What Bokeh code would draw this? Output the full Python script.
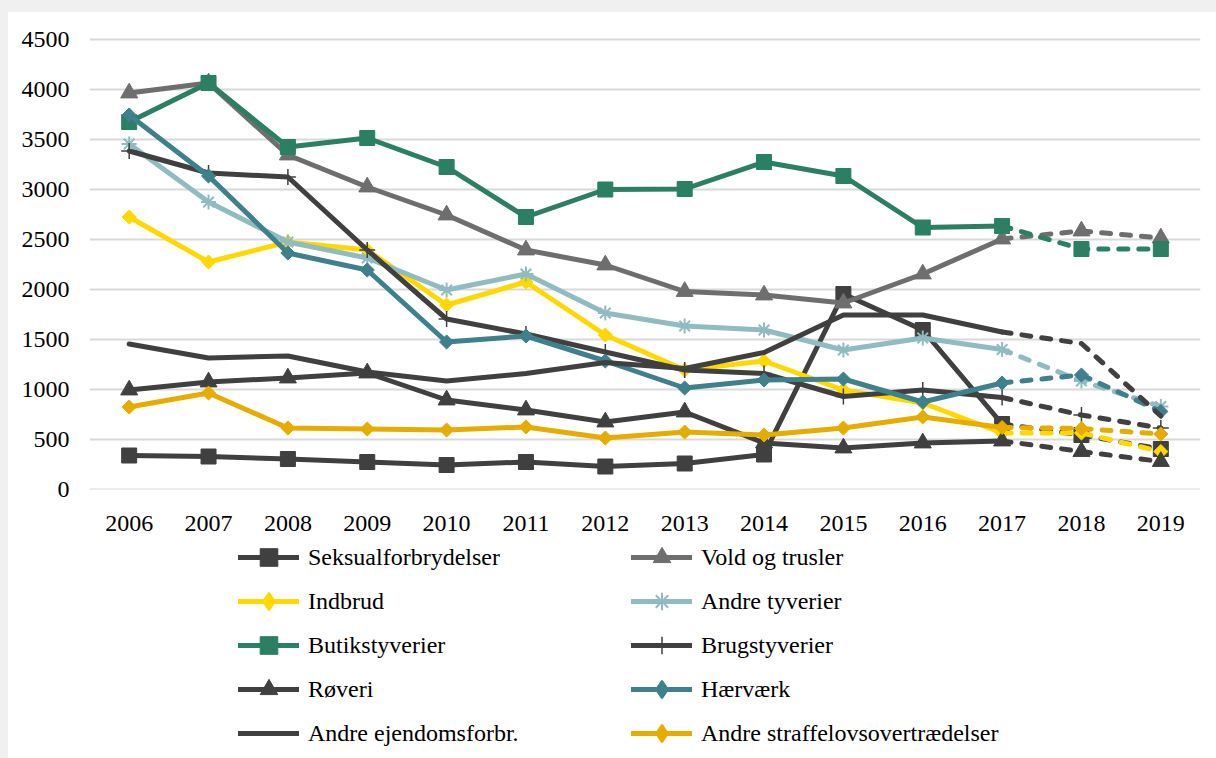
import math
from bokeh.plotting import figure
from bokeh.models import FactorRange, Range1d, FixedTicker, Legend, LegendItem, Div
from bokeh.layouts import column, row
from bokeh.embed import file_html
from bokeh.resources import INLINE

years = [str(y) for y in range(2006, 2020)]

seksual = [335, 325, 300, 270, 240, 270, 225, 255, 345, 1950, 1590, 650, 540, 400]
vold = [3960, 4060, 3340, 3020, 2740, 2390, 2240, 1975, 1940, 1860, 2150, 2500, 2580, 2510]
indbrud = [2720, 2270, 2470, 2390, 1840, 2070, 1540, 1190, 1280, 990, 860, 560, 560, 375]
andre_tyverier = [3450, 2870, 2470, 2310, 1990, 2150, 1760, 1630, 1590, 1390, 1510, 1395, 1080, 825]
butik = [3670, 4060, 3420, 3510, 3220, 2720, 2995, 3000, 3270, 3130, 2615, 2630, 2400, 2400]
brug = [3380, 3160, 3120, 2390, 1700, 1550, 1370, 1190, 1155, 925, 990, 915, 740, 610]
roveri = [990, 1070, 1110, 1160, 890, 790, 670, 770, 460, 410, 460, 480, 375, 275]
haervaerk = [3740, 3130, 2360, 2190, 1470, 1530, 1280, 1010, 1090, 1100, 870, 1060, 1140, 775]
andre_ejd = [1450, 1310, 1330, 1170, 1080, 1155, 1265, 1205, 1365, 1740, 1740, 1570, 1455, 730]
andre_straf = [820, 960, 610, 600, 590, 620, 510, 570, 540, 610, 720, 615, 605, 550]

y_ticks = [0, 500, 1000, 1500, 2000, 2500, 3000, 3500, 4000, 4500]

# name, values, color, marker, size, marker line width
series = [
    ("Seksualforbrydelser", seksual, "#404040", "square", 15, 1),
    ("Vold og trusler", vold, "#6e6e6e", "triangle", 17, 1),
    ("Indbrud", indbrud, "#ffd800", "diamond", 10, 1),
    ("Andre tyverier", andre_tyverier, "#8fbbc1", "asterisk", 15, 2),
    ("Butikstyverier", butik, "#2b7f62", "square", 15, 1),
    ("Brugstyverier", brug, "#404040", "cross", 16, 1.5),
    ("Røveri", roveri, "#404040", "triangle", 17, 1),
    ("Hærværk", haervaerk, "#3e808b", "diamond", 10, 1),
    ("Andre ejendomsforbr.", andre_ejd, "#404040", None, 0, 1),
    ("Andre straffelovsovertrædelser", andre_straf, "#e6ad00", "diamond", 10, 1),
]

FONT = "Liberation Serif"


def draw_series(fig, for_legend=False):
    items = {}
    for name, vals, color, marker, size, mlw in series:
        solid = fig.line(years[:12], vals[:12], line_width=5, line_color=color,
                         line_join="round", line_cap="round")
        fig.line(years[11:], vals[11:], line_width=5, line_color=color,
                 line_dash="9 11", line_join="round", line_cap="round")
        rends = [solid]
        if marker:
            if marker in ("asterisk", "cross"):
                sc = fig.scatter(years, vals, marker=marker, size=size, line_color=color,
                                 line_width=mlw, fill_color=None)
            elif marker == "diamond":
                if for_legend:
                    sc = fig.scatter(years, vals, marker="diamond", size=size,
                                     fill_color=color, line_color=color, line_width=2)
                else:
                    # Excel-style diamond: square turned 45 degrees
                    sc = fig.scatter(years, vals, marker="square", size=size, angle=math.pi / 4,
                                     fill_color=color, line_color=color, line_width=mlw)
            else:
                sc = fig.scatter(years, vals, marker=marker, size=size,
                                 fill_color=color, line_color=color, line_width=mlw)
            rends.append(sc)
        items[name] = LegendItem(label=name, renderers=rends)
    return items


# main chart
p = figure(
    width=1208, height=531,
    x_range=FactorRange(factors=years, range_padding=0),
    y_range=Range1d(-5, 4515),
    output_backend="svg", toolbar_location=None,
    min_border_left=81, min_border_right=16, min_border_top=25, min_border_bottom=54,
)
p.outline_line_color = None
p.background_fill_color = "white"
p.border_fill_color = "white"
p.xgrid.grid_line_color = None
p.ygrid.grid_line_color = "#d9d9d9"
p.ygrid.grid_line_width = 2
p.yaxis.ticker = FixedTicker(ticks=y_ticks)
for ax in (p.xaxis[0], p.yaxis[0]):
    ax.axis_line_color = None
    ax.major_tick_line_color = None
    ax.minor_tick_line_color = None
    ax.major_tick_out = 0
    ax.major_tick_in = 0
    ax.major_label_text_font = FONT
    ax.major_label_text_font_size = "24px"
    ax.major_label_text_color = "black"
p.yaxis.major_label_standoff = 20
p.xaxis.major_label_standoff = 26
draw_series(p)

# legend panel (same series drawn outside its visible range, used only for the legend)
q = figure(
    width=1208, height=215,
    x_range=FactorRange(factors=years, range_padding=0),
    y_range=Range1d(10000, 11000),
    output_backend="svg", toolbar_location=None,
    min_border_left=0, min_border_right=0, min_border_top=0, min_border_bottom=0,
)
q.axis.visible = False
q.grid.visible = False
q.outline_line_color = None
q.background_fill_color = "white"
q.border_fill_color = "white"
items = draw_series(q, for_legend=True)

col1 = ["Seksualforbrydelser", "Indbrud", "Butikstyverier", "Røveri", "Andre ejendomsforbr."]
col2 = ["Vold og trusler", "Andre tyverier", "Brugstyverier", "Hærværk",
        "Andre straffelovsovertrædelser"]


def make_legend(names, loc):
    lg = Legend(items=[items[n] for n in names], location=loc, orientation="vertical")
    lg.glyph_width = 61
    lg.glyph_height = 44
    lg.spacing = 0
    lg.label_standoff = 9
    lg.padding = 0
    lg.margin = 0
    lg.border_line_color = None
    lg.background_fill_alpha = 0
    lg.label_text_font = FONT
    lg.label_text_font_size = "24px"
    lg.label_text_color = "black"
    lg.label_height = 44
    return lg


q.add_layout(make_legend(col1, (149, 3)))
q.add_layout(make_legend(col2, (542, 3)))

top_strip = Div(text="", width=1216, height=12, margin=0,
                styles={"background-color": "#f0f0f0", "padding": "0px"})
left_strip = Div(text="", width=8, height=746, margin=0,
                 styles={"background-color": "#f0f0f0", "padding": "0px"})

layout = column(top_strip, row(left_strip, column(p, q, spacing=0), spacing=0), spacing=0)

open("out.html", "w").write(file_html(layout, INLINE))
